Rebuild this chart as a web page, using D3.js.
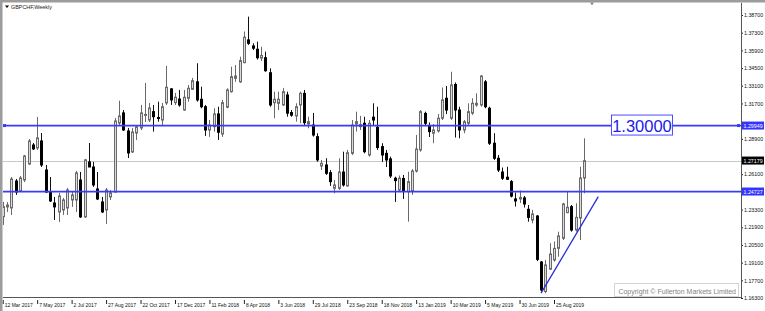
<!DOCTYPE html>
<html>
<head>
<meta charset="utf-8">
<script src="https://cdn.jsdelivr.net/npm/d3@7"></script>
<style>
  body { margin: 0; background: #fff; }
  svg { display: block; font-family: "Liberation Sans", Arial, sans-serif; }
</style>
</head>
<body>
<div id="chart"></div>
<script>
const svgWidth = 765
const svgHeight = 311

const symbolName = "GBPCHF,Weekly"
const firstWeek = "2017-03-12"
const lastWeek = "2019-10-13"

// weekly OHLC, one entry per week from firstWeek to lastWeek
const openPrices = [
  1.2274, 1.2351, 1.2343, 1.2556, 1.2477, 1.2564, 1.2691, 1.2841, 1.2818, 1.2873,
  1.2643, 1.2469, 1.2382, 1.2311, 1.2327, 1.2343, 1.2406, 1.2406, 1.2564, 1.2272,
  1.2707, 1.2667, 1.2493, 1.2390, 1.2327, 1.2430, 1.2469, 1.3015, 1.3095, 1.2952,
  1.2786, 1.2936, 1.2976, 1.3075, 1.3039, 1.3105, 1.3059, 1.3039, 1.3174, 1.3285,
  1.3176, 1.3205, 1.3118, 1.3211, 1.3282, 1.3341, 1.3203, 1.3144, 1.2960, 1.2986,
  1.3087, 1.2928, 1.3140, 1.3263, 1.3369, 1.3341, 1.3493, 1.3673, 1.3625, 1.3599,
  1.3529, 1.3532, 1.3413, 1.3176, 1.3171, 1.3158, 1.3237, 1.3098, 1.3071, 1.3158,
  1.3250, 1.3007, 1.2999, 1.2907, 1.2675, 1.2683, 1.2622, 1.2498, 1.2498, 1.2627,
  1.2517, 1.2775, 1.3007, 1.2986, 1.3013, 1.2762, 1.3061, 1.2981, 1.2828, 1.2775,
  1.2731, 1.2578, 1.2485, 1.2576, 1.2472, 1.2477, 1.2635, 1.2802, 1.3091, 1.2995,
  1.2934, 1.2952, 1.3053, 1.3211, 1.3053, 1.3320, 1.3118, 1.2960, 1.3013, 1.3093,
  1.3158, 1.3158, 1.3341, 1.3132, 1.2855, 1.2736, 1.2627, 1.2586, 1.2551, 1.2414,
  1.2414, 1.2422, 1.2332, 1.2247, 1.2279, 1.1915, 1.1681, 1.1858, 1.1931, 1.2023,
  1.2103, 1.2306, 1.2353, 1.2168, 1.2263, 1.2580
]
const highPrices = [
  1.2390, 1.2390, 1.2588, 1.2572, 1.2596, 1.2762, 1.2889, 1.2857, 1.3063, 1.2936,
  1.2683, 1.2588, 1.2430, 1.2462, 1.2422, 1.2501, 1.2469, 1.2636, 1.2628, 1.2731,
  1.2857, 1.2707, 1.2628, 1.2430, 1.2501, 1.2485, 1.3055, 1.3192, 1.3118, 1.2976,
  1.2976, 1.2999, 1.3158, 1.3332, 1.3174, 1.3158, 1.3184, 1.3174, 1.3467, 1.3292,
  1.3253, 1.3277, 1.3277, 1.3316, 1.3372, 1.3488, 1.3303, 1.3158, 1.3039, 1.3132,
  1.3144, 1.3198, 1.3290, 1.3461, 1.3474, 1.3540, 1.3739, 1.3857, 1.3646, 1.3659,
  1.3619, 1.3580, 1.3448, 1.3263, 1.3263, 1.3293, 1.3263, 1.3118, 1.3171, 1.3263,
  1.3277, 1.3065, 1.3095, 1.2934, 1.2723, 1.2736, 1.2643, 1.2564, 1.2736, 1.2788,
  1.2802, 1.3039, 1.3105, 1.3071, 1.3065, 1.3039, 1.3171, 1.3144, 1.2855, 1.2802,
  1.2749, 1.2590, 1.2600, 1.2604, 1.2630, 1.2651, 1.2920, 1.3118, 1.3105, 1.3019,
  1.3007, 1.3086, 1.3296, 1.3308, 1.3421, 1.3336, 1.3144, 1.3039, 1.3171, 1.3211,
  1.3250, 1.3395, 1.3355, 1.3144, 1.2934, 1.2762, 1.2663, 1.2669, 1.2564, 1.2465,
  1.2481, 1.2437, 1.2366, 1.2327, 1.2287, 1.1922, 1.1931, 1.2064, 1.2077, 1.2155,
  1.2384, 1.2472, 1.2366, 1.2380, 1.2669, 1.2894
]
const lowPrices = [
  1.2208, 1.2311, 1.2287, 1.2446, 1.2469, 1.2548, 1.2683, 1.2802, 1.2802, 1.2667,
  1.2462, 1.2390, 1.2248, 1.2232, 1.2287, 1.2287, 1.2351, 1.2311, 1.2264, 1.2264,
  1.2675, 1.2509, 1.2406, 1.2303, 1.2216, 1.2406, 1.2462, 1.2999, 1.2952, 1.2738,
  1.2778, 1.2881, 1.2960, 1.3023, 1.3023, 1.2947, 1.3026, 1.2999, 1.3158, 1.3158,
  1.3158, 1.3144, 1.3113, 1.3184, 1.3277, 1.3184, 1.3132, 1.2913, 1.2905, 1.2947,
  1.2881, 1.2905, 1.3132, 1.3255, 1.3341, 1.3333, 1.3488, 1.3633, 1.3593, 1.3518,
  1.3505, 1.3421, 1.3144, 1.3053, 1.3118, 1.3150, 1.3065, 1.3065, 1.3026, 1.3013,
  1.2999, 1.2973, 1.2907, 1.2709, 1.2643, 1.2604, 1.2517, 1.2459, 1.2485, 1.2512,
  1.2512, 1.2762, 1.2947, 1.2960, 1.2775, 1.2749, 1.2999, 1.2802, 1.2707, 1.2667,
  1.2580, 1.2390, 1.2472, 1.2414, 1.2234, 1.2446, 1.2623, 1.2788, 1.2999, 1.2904,
  1.2855, 1.2940, 1.3039, 1.3086, 1.3039, 1.2900, 1.2894, 1.2934, 1.2999, 1.3079,
  1.3144, 1.3144, 1.3132, 1.2841, 1.2723, 1.2627, 1.2564, 1.2564, 1.2426, 1.2354,
  1.2382, 1.2346, 1.2234, 1.2221, 1.1922, 1.1681, 1.1668, 1.1852, 1.1918, 1.1957,
  1.2089, 1.2301, 1.2155, 1.2155, 1.2089, 1.2459
]
const closePrices = [
  1.2353, 1.2366, 1.2572, 1.2469, 1.2580, 1.2754, 1.2873, 1.2810, 1.2897, 1.2683,
  1.2469, 1.2398, 1.2351, 1.2438, 1.2406, 1.2485, 1.2446, 1.2620, 1.2272, 1.2723,
  1.2667, 1.2525, 1.2414, 1.2311, 1.2485, 1.2462, 1.3031, 1.3071, 1.2960, 1.2778,
  1.2944, 1.2984, 1.3095, 1.3083, 1.3134, 1.3065, 1.3051, 1.3144, 1.3298, 1.3198,
  1.3219, 1.3158, 1.3219, 1.3290, 1.3350, 1.3198, 1.3144, 1.2960, 1.2999, 1.3087,
  1.2942, 1.3176, 1.3277, 1.3382, 1.3387, 1.3509, 1.3694, 1.3646, 1.3607, 1.3532,
  1.3550, 1.3429, 1.3158, 1.3203, 1.3203, 1.3263, 1.3093, 1.3077, 1.3144, 1.3250,
  1.3018, 1.3026, 1.2920, 1.2723, 1.2696, 1.2617, 1.2551, 1.2525, 1.2627, 1.2525,
  1.2780, 1.2999, 1.3026, 1.3003, 1.2788, 1.3013, 1.3039, 1.2821, 1.2762, 1.2723,
  1.2596, 1.2559, 1.2578, 1.2481, 1.2551, 1.2635, 1.2809, 1.3105, 1.3013, 1.2947,
  1.2960, 1.3053, 1.3198, 1.3118, 1.3316, 1.3118, 1.2960, 1.3026, 1.3105, 1.3171,
  1.3171, 1.3387, 1.3144, 1.2855, 1.2736, 1.2643, 1.2578, 1.2570, 1.2437, 1.2398,
  1.2426, 1.2374, 1.2268, 1.2295, 1.1936, 1.1694, 1.1892, 1.1978, 1.2023, 1.2121,
  1.2374, 1.2348, 1.2168, 1.2268, 1.2580, 1.2717
]

const dateLabels = [
  "12 Mar 2017", "7 May 2017", "2 Jul 2017", "27 Aug 2017", "22 Oct 2017",
  "17 Dec 2017", "11 Feb 2018", "8 Apr 2018", "3 Jun 2018", "29 Jul 2018",
  "23 Sep 2018", "18 Nov 2018", "13 Jan 2019", "10 Mar 2019", "5 May 2019",
  "30 Jun 2019", "25 Aug 2019"
]
const priceTicks = [
  1.387, 1.373, 1.359, 1.345, 1.331, 1.317, 1.303, 1.289, 1.275,
  1.261, 1.247, 1.233, 1.219, 1.205, 1.191, 1.177, 1.163
]

const levelPrices = [1.29949, 1.24727]
const currentPrice = 1.27179
const noteText = "1.30000"
const noteDate = "2020-01-15"
const trendPoints = [["2019-08-04", 1.1668], ["2019-11-05", 1.2432]]
const copyrightText = "Copyright © Fullerton Markets Limited"

const plot = { left: 3, right: 741, top: 3, bottom: 297 }
const blue = "#3a3aff"

const parseDay = d3.utcParse("%Y-%m-%d")
const parseLabel = d3.utcParse("%e %b %Y")

const weeks = d3.utcWeek.range(parseDay(firstWeek), d3.utcDay.offset(parseDay(lastWeek), 1))
const candles = weeks.map((d, i) => ({
  date: d,
  open: openPrices[i],
  high: highPrices[i],
  low: lowPrices[i],
  close: closePrices[i]
}))
const labelDates = dateLabels.map(parseLabel)

let x = d3.scaleUtc()
  .domain([labelDates[0], labelDates[labelDates.length - 1]])
  .range([2.7, 554])

let y = d3.scaleLinear()
  .domain([1.163, 1.387])
  .range([298, 15])

let svg = d3.select("#chart")
  .append("svg")
  .attr("width", svgWidth)
  .attr("height", svgHeight)

svg.append("rect")
  .attr("width", svgWidth)
  .attr("height", svgHeight)
  .attr("fill", "#fff")

svg.append("clipPath")
  .attr("id", "plotClip")
  .append("rect")
  .attr("x", plot.left)
  .attr("y", plot.top)
  .attr("width", plot.right - plot.left)
  .attr("height", plot.bottom - plot.top)

// price axis on the right; labels hidden under a price tag are left out
const tagPrices = [currentPrice].concat(levelPrices)
const visibleTicks = priceTicks.filter(t => tagPrices.every(p => Math.abs(y(t) - y(p)) > 7))

let yAxis = svg.append("g")
  .attr("transform", `translate(${plot.right}, 0)`)
  .call(d3.axisRight(y).tickValues(visibleTicks).tickFormat(d3.format(".5f")).tickSize(2).tickPadding(1))
yAxis.select(".domain").remove()
yAxis.selectAll("line").attr("stroke", "#222")
yAxis.selectAll("text")
  .attr("font-size", "5.3px")
  .attr("font-family", "Liberation Sans, Arial, sans-serif")
  .attr("fill", "#111")

// date axis at the bottom
let xAxis = svg.append("g")
  .attr("transform", `translate(0, ${plot.bottom})`)
  .call(d3.axisBottom(x).tickValues(labelDates).tickFormat((d, i) => dateLabels[i]).tickSize(7))
xAxis.select(".domain").remove()
xAxis.selectAll("line").attr("stroke", "#222").attr("y1", 3)
xAxis.selectAll("text")
  .attr("text-anchor", "start")
  .attr("x", 1.5)
  .attr("y", 6)
  .attr("font-size", "5px")
  .attr("font-family", "Liberation Sans, Arial, sans-serif")
  .attr("fill", "#111")

// frame
svg.append("line")
  .attr("x1", plot.right + 0.5).attr("x2", plot.right + 0.5)
  .attr("y1", plot.top).attr("y2", plot.bottom + 1)
  .attr("stroke", "#555")
svg.append("line")
  .attr("x1", plot.left).attr("x2", plot.right + 1)
  .attr("y1", plot.bottom + 0.5).attr("y2", plot.bottom + 0.5)
  .attr("stroke", "#555")

let chartGroup = svg.append("g").attr("clip-path", "url(#plotClip)")

// current price line (behind candles)
chartGroup.append("line")
  .attr("x1", plot.left).attr("x2", plot.right)
  .attr("y1", Math.round(y(currentPrice)) + 0.5)
  .attr("y2", Math.round(y(currentPrice)) + 0.5)
  .attr("stroke", "#c8c8c8")

let candleGroup = chartGroup.selectAll("g.candle")
  .data(candles)
  .enter()
  .append("g")
  .attr("class", "candle")

candleGroup.append("line")
  .attr("x1", d => Math.round(x(d.date)) + 0.5)
  .attr("x2", d => Math.round(x(d.date)) + 0.5)
  .attr("y1", d => y(d.high))
  .attr("y2", d => y(d.low))
  .attr("stroke", d => d.close >= d.open ? "#6a6a6a" : "#111")

candleGroup.append("rect")
  .attr("x", d => Math.round(x(d.date)) - 0.5)
  .attr("width", 2)
  .attr("y", d => y(Math.max(d.open, d.close)))
  .attr("height", d => Math.max(0.8, Math.abs(y(d.open) - y(d.close))))
  .attr("fill", d => d.close >= d.open ? "#dcdcdc" : "#000")
  .attr("stroke", d => d.close >= d.open ? "#6a6a6a" : "#000")
  .attr("stroke-width", 1)

// horizontal levels
levelPrices.forEach((p, i) => {
  let ly = y(p)
  chartGroup.append("line")
    .attr("x1", plot.left).attr("x2", plot.right)
    .attr("y1", ly).attr("y2", ly)
    .attr("stroke", blue)
    .attr("stroke-width", 1.8)
  if (i === 0) {
    chartGroup.append("rect").attr("x", plot.left).attr("y", ly - 1.5).attr("width", 3).attr("height", 3).attr("fill", blue)
    chartGroup.append("rect").attr("x", plot.right - 4).attr("y", ly - 1.5).attr("width", 3).attr("height", 3).attr("fill", blue)
  }
})

// trend line
chartGroup.append("line")
  .attr("x1", x(parseDay(trendPoints[0][0])))
  .attr("y1", y(trendPoints[0][1]))
  .attr("x2", x(parseDay(trendPoints[1][0])))
  .attr("y2", y(trendPoints[1][1]))
  .attr("stroke", "#2b2be0")
  .attr("stroke-width", 1.3)

// text note on the upper level
let noteX = x(parseDay(noteDate))
let noteY = y(levelPrices[0])
chartGroup.append("rect")
  .attr("x", noteX - 30.5)
  .attr("y", noteY - 10.5)
  .attr("width", 61)
  .attr("height", 20)
  .attr("fill", "#fff")
  .attr("stroke", "#4c4cff")
chartGroup.append("text")
  .attr("x", noteX)
  .attr("y", noteY + 6.5)
  .attr("text-anchor", "middle")
  .attr("font-size", "16.5px")
  .attr("fill", "#2020e8")
  .text(noteText)

// copyright box
svg.append("rect")
  .attr("x", 614.5).attr("y", 283.5)
  .attr("width", 124).attr("height", 13)
  .attr("fill", "#fff")
  .attr("stroke", "#d4d4d4")
svg.append("text")
  .attr("x", 736)
  .attr("y", 293.5)
  .attr("text-anchor", "end")
  .attr("font-size", "7px")
  .attr("fill", "#848484")
  .text(copyrightText)

// price tags on the axis
function priceTag(p, fill) {
  let ty = y(p)
  svg.append("rect")
    .attr("x", plot.right + 1)
    .attr("y", ty - 4)
    .attr("width", 22)
    .attr("height", 8)
    .attr("fill", fill)
  svg.append("text")
    .attr("x", plot.right + 2.5)
    .attr("y", ty + 2)
    .attr("font-size", "5.3px")
    .attr("fill", "#fff")
    .text(d3.format(".5f")(p))
}
priceTag(currentPrice, "#000")
levelPrices.forEach(p => priceTag(p, "#3434ff"))

// window border and title
svg.append("rect").attr("x", 0).attr("y", 0).attr("width", 2.5).attr("height", svgHeight).attr("fill", "#9c9c9c")
svg.append("rect").attr("x", 0).attr("y", 0).attr("width", svgWidth).attr("height", 2.5).attr("fill", "#9c9c9c")
svg.append("path").attr("d", "M5,5.5 L9,5.5 L7,8 Z").attr("fill", "#000")
svg.append("text")
  .attr("x", 11)
  .attr("y", 9)
  .attr("font-size", "5.4px")
  .attr("fill", "#222")
  .text(symbolName)
svg.append("path").attr("d", "M590,2.5 L594,2.5 L592,5.5 Z").attr("fill", "#8a8a8a")
</script>
</body>
</html>
